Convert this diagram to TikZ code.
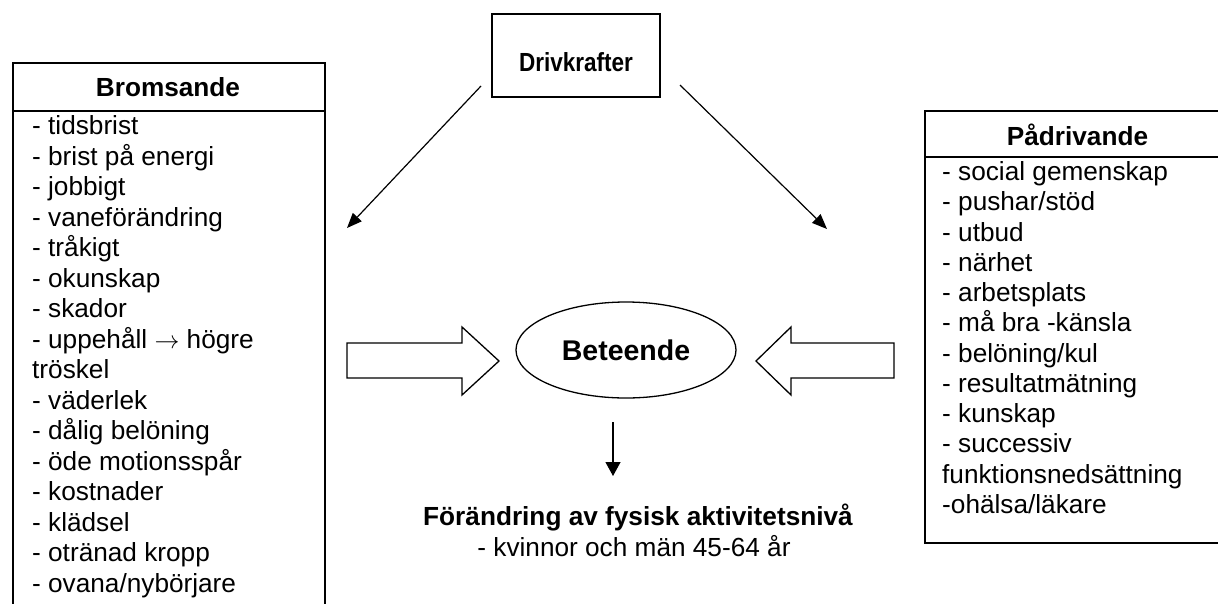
\documentclass[tikz,border=0pt]{standalone}
\usepackage{fontspec}
\setmainfont{Liberation Sans}
\usetikzlibrary{arrows.meta,shapes.geometric}
\tikzset{
  txt/.style={inner sep=0pt, font=\fontsize{26.2pt}{30.5pt}\selectfont, anchor=base west},
  hdr/.style={inner sep=0pt, font=\fontsize{26.2pt}{30.5pt}\selectfont\bfseries, anchor=base},
  frame/.style={draw, line width=2pt, inner sep=0pt, anchor=north west},
  sepline/.style={line width=1.3pt},
  conn/.style={line width=1.2pt, -{Triangle[length=15pt,width=12pt]}},
  blockarrow/.style={draw, line width=1.3pt, fill=white, line join=miter},
}
\begin{document}
\begin{tikzpicture}[x=1pt,y=-1pt]
\useasboundingbox (0,0) rectangle (1218,603);
\clip (0,0) rectangle (1218,603);
\fill[white] (0,0) rectangle (1218,603);

% left box
\node[frame, minimum width=312pt, minimum height=600pt] (lbox) at (12,62) {};
\draw[sepline] (12,111) -- (324,111);
\node[hdr] (lh) at (168,96.5) {Bromsande};
\foreach \t [count=\i from 0] in {- tidsbrist, - brist på energi, - jobbigt, - vaneförändring, - tråkigt, - okunskap, - skador, - uppehåll $\rightarrow$ högre, tröskel, - väderlek, - dålig belöning, - öde motionsspår, - kostnader, - klädsel, - otränad kropp, - ovana/nybörjare}
  \node[txt] (l\i) at (32,{134.5+30.5*\i}) {\t};

% right box
\node[frame, minimum width=340pt, minimum height=432pt] (rbox) at (924,110) {};
\draw[sepline] (924,157) -- (1260,157);
\node[hdr] (rh) at (1077.5,145) {Pådrivande};
\foreach \t [count=\i from 0] in {- social gemenskap, - pushar/stöd, - utbud, - närhet, - arbetsplats, - må bra -känsla, - belöning/kul, - resultatmätning, - kunskap, - successiv, funktionsnedsättning, -ohälsa/läkare}
  \node[txt] (r\i) at (942,{180.5+30.25*\i}) {\t};

% Drivkrafter
\node[draw, line width=1.5pt, minimum width=168pt, minimum height=83pt, inner sep=0pt,
      text height=32.4pt, text depth=0pt, font=\fontsize{26.2pt}{30pt}\selectfont\bfseries]
      (drv) at (576,55.5) {\scalebox{0.86}[1]{Drivkrafter}};

% Beteende
\node[ellipse, draw, line width=1.3pt, minimum width=220pt, minimum height=96pt, inner sep=0pt,
      font=\fontsize{28.5pt}{30pt}\selectfont\bfseries] (beh) at (626,350) {Beteende};

% block arrows
\draw[blockarrow] (347,343) -- (462,343) -- (462,327) -- (499,361) -- (462,395) -- (462,378) -- (347,378) -- cycle;
\draw[blockarrow] (894,343) -- (791,343) -- (791,327) -- (756,361) -- (791,395) -- (791,378) -- (894,378) -- cycle;

% thin arrows
\coordinate (dls) at (481,86);
\coordinate (dle) at (347,228);
\coordinate (drs) at (680,85);
\coordinate (dre) at (827,229);
\draw[conn] (dls) -- (dle);
\draw[conn] (drs) -- (dre);
\coordinate (bs) at (613,422);
\coordinate (be) at (613,476);
\draw[conn, -{Triangle[length=14pt,width=15pt]}] (bs) -- (be);

% result text
\node[hdr] (res1) at (638,525) {Förändring av fysisk aktivitetsnivå};
\node[inner sep=0pt, font=\fontsize{26.2pt}{30.5pt}\selectfont, anchor=base] (res2) at (634,556.5) {- kvinnor och män 45-64 år};
\end{tikzpicture}
\end{document}
